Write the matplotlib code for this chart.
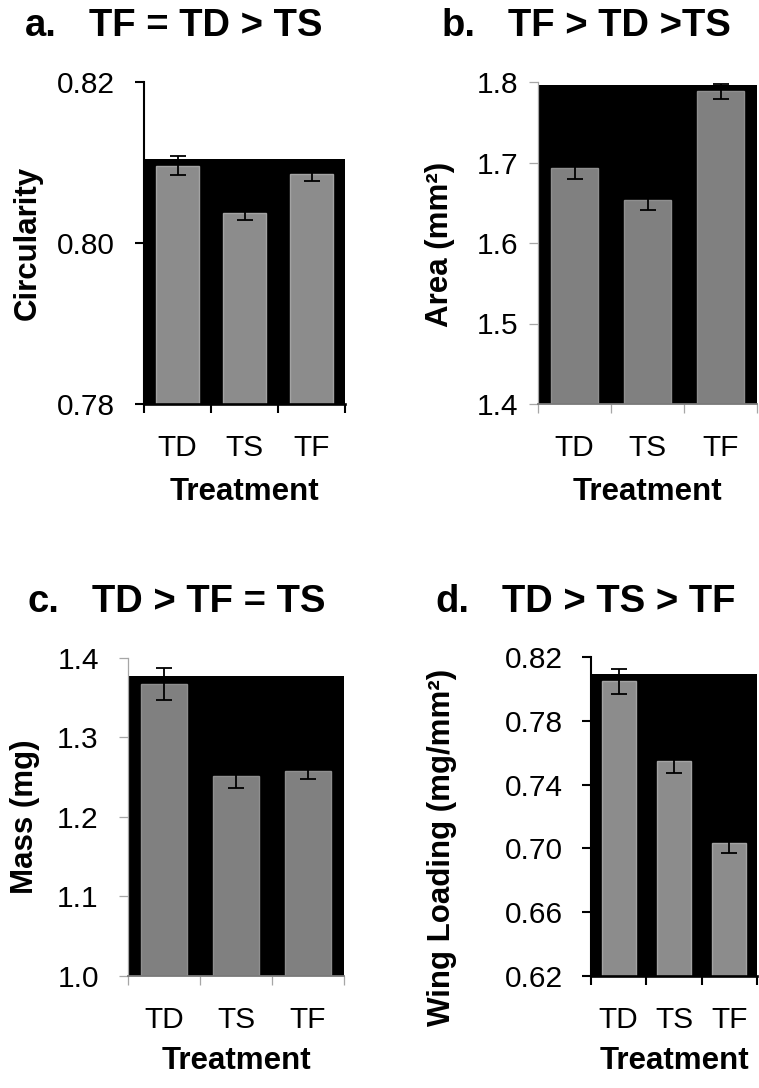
"""Four-panel bar chart of wing traits by treatment (TD / TS / TF)."""

import matplotlib

matplotlib.use("Agg")
import matplotlib.pyplot as plt
from matplotlib.ticker import FixedLocator, FormatStrFormatter

plt.rcParams["font.family"] = ["Liberation Sans", "DejaVu Sans"]

TREATMENTS = ["TD", "TS", "TF"]

CIRCULARITY = [0.8096, 0.8037, 0.8086]
CIRCULARITY_ERR = [0.0012, 0.0009, 0.0009]

AREA = [1.6926, 1.6528, 1.7883]
AREA_ERR = [0.013, 0.012, 0.009]

MASS = [1.3677, 1.2513, 1.2584]
MASS_ERR = [0.020, 0.015, 0.010]

WING_LOADING = [0.8047, 0.7549, 0.7033]
WING_LOADING_ERR = [0.0080, 0.0077, 0.0063]

CIRCULARITY_TICKS = [0.78, 0.80, 0.82]
AREA_TICKS = [1.4, 1.5, 1.6, 1.7, 1.8]
MASS_TICKS = [1.0, 1.1, 1.2, 1.3, 1.4]
WING_LOADING_TICKS = [0.62, 0.66, 0.70, 0.74, 0.78, 0.82]

# the black backdrop behind the bars stops at a level of its own in each panel
BACKDROP_TOP = [0.8104, 1.7966, 1.377, 0.8093]

W, H = 759, 1088


def px_rect(left, right, top, bottom):
    return [left / W, 1 - bottom / H, (right - left) / W, (bottom - top) / H]


def panel(fig, rect, values, errs, ticks, fmt, backdrop_top, style):
    ax = fig.add_axes(rect)
    x = range(len(TREATMENTS))
    ax.axhspan(ticks[0], backdrop_top, color="black", zorder=0.5, linewidth=0)
    ax.bar(
        x,
        values,
        width=style["bar_width"],
        color=style["bar_color"],
        edgecolor=style["bar_edge"],
        linewidth=1,
        zorder=2,
    )
    ax.errorbar(
        x,
        values,
        yerr=errs,
        fmt="none",
        ecolor="black",
        elinewidth=1.3,
        capsize=5.5,
        capthick=1.3,
        zorder=3,
    )
    ax.set_xlim(-0.5, len(TREATMENTS) - 0.5)
    ax.set_ylim(ticks[0], ticks[-1])
    ax.set_yticks(ticks)
    ax.yaxis.set_major_formatter(FormatStrFormatter(fmt))
    ax.set_xticks(list(x))
    ax.set_xticklabels(TREATMENTS)
    ax.xaxis.set_minor_locator(FixedLocator([i - 0.5 for i in range(len(TREATMENTS) + 1)]))

    for side in ("top", "right"):
        ax.spines[side].set_visible(False)
    ax.spines["left"].set_color(style["left_spine"])
    ax.spines["left"].set_linewidth(style["spine_lw"])
    ax.spines["bottom"].set_color(style["bottom_spine"])
    ax.spines["bottom"].set_linewidth(style["spine_lw"] + 0.4)
    ax.spines["left"].set_zorder(4)
    ax.spines["bottom"].set_zorder(4)

    ax.tick_params(axis="y", which="major", length=6.5, width=style["spine_lw"],
                   color=style["left_spine"], labelsize=21.5, pad=style["ypad"])
    ax.tick_params(axis="x", which="major", length=0, labelsize=21.5, pad=21.5)
    ax.tick_params(axis="x", which="minor", length=6.5, width=style["spine_lw"],
                   color=style["tick_color"])
    return ax


def main():
    fig = plt.figure(figsize=(W / 100, H / 100), dpi=100)

    dark = dict(bar_width=0.63, bar_color="#8c8c8c", bar_edge="#a3a3a3",
                left_spine="black", bottom_spine="black", tick_color="black",
                spine_lw=1.5, ypad=14.5)
    grey = dict(bar_width=0.64, bar_color="#808080", bar_edge="#8f8f8f",
                left_spine="#a6a6a6", bottom_spine="#7a7a7a", tick_color="#a6a6a6",
                spine_lw=0.9, ypad=7.5)

    ax_a = panel(fig, px_rect(144, 345, 82, 404), CIRCULARITY, CIRCULARITY_ERR,
                 CIRCULARITY_TICKS, "%.2f", BACKDROP_TOP[0], dark)
    ax_b = panel(fig, px_rect(538, 757, 82, 404), AREA, AREA_ERR,
                 AREA_TICKS, "%.1f", BACKDROP_TOP[1], grey)
    ax_c = panel(fig, px_rect(128, 344, 658, 976), MASS, MASS_ERR,
                 MASS_TICKS, "%.1f", BACKDROP_TOP[2], dict(grey, bar_width=0.65, ypad=14.5))
    ax_d = panel(fig, px_rect(591, 757, 657, 976), WING_LOADING, WING_LOADING_ERR,
                 WING_LOADING_TICKS, "%.2f", BACKDROP_TOP[3], dict(dark, bar_width=0.62, ypad=14))

    labels = [
        (ax_a, "Circularity", -0.577, 0.5, -0.273),
        (ax_b, "Area (mm²)", -0.447, 0.497, -0.273),
        (ax_c, "Mass (mg)", -0.477, 0.5, -0.267),
        (ax_d, "Wing Loading (mg/mm²)", -0.898, 0.403, -0.267),
    ]
    for ax, ylabel, yx, yy, xy in labels:
        ax.set_ylabel(ylabel, fontsize=22.5, fontweight="bold", va="center")
        ax.yaxis.set_label_coords(yx, yy)
        ax.set_xlabel("Treatment", fontsize=22.5, fontweight="bold", va="center")
        ax.xaxis.set_label_coords(0.5, xy)

    titles = [
        ("a.", "TF = TD > TS", 25, 89, 36),
        ("b.", "TF > TD >TS", 442, 508, 36),
        ("c.", "TD > TF = TS", 27, 92, 612),
        ("d.", "TD > TS > TF", 435, 502, 612),
    ]
    for letter, text, lx, tx, base in titles:
        fig.text(lx / W, 1 - base / H, letter, fontsize=27.5, fontweight="bold",
                 ha="left", va="baseline")
        fig.text(tx / W, 1 - base / H, text, fontsize=27.5, fontweight="bold",
                 ha="left", va="baseline")

    fig.savefig("out.png", dpi=100, facecolor="white")
    plt.close(fig)


if __name__ == "__main__":
    main()
